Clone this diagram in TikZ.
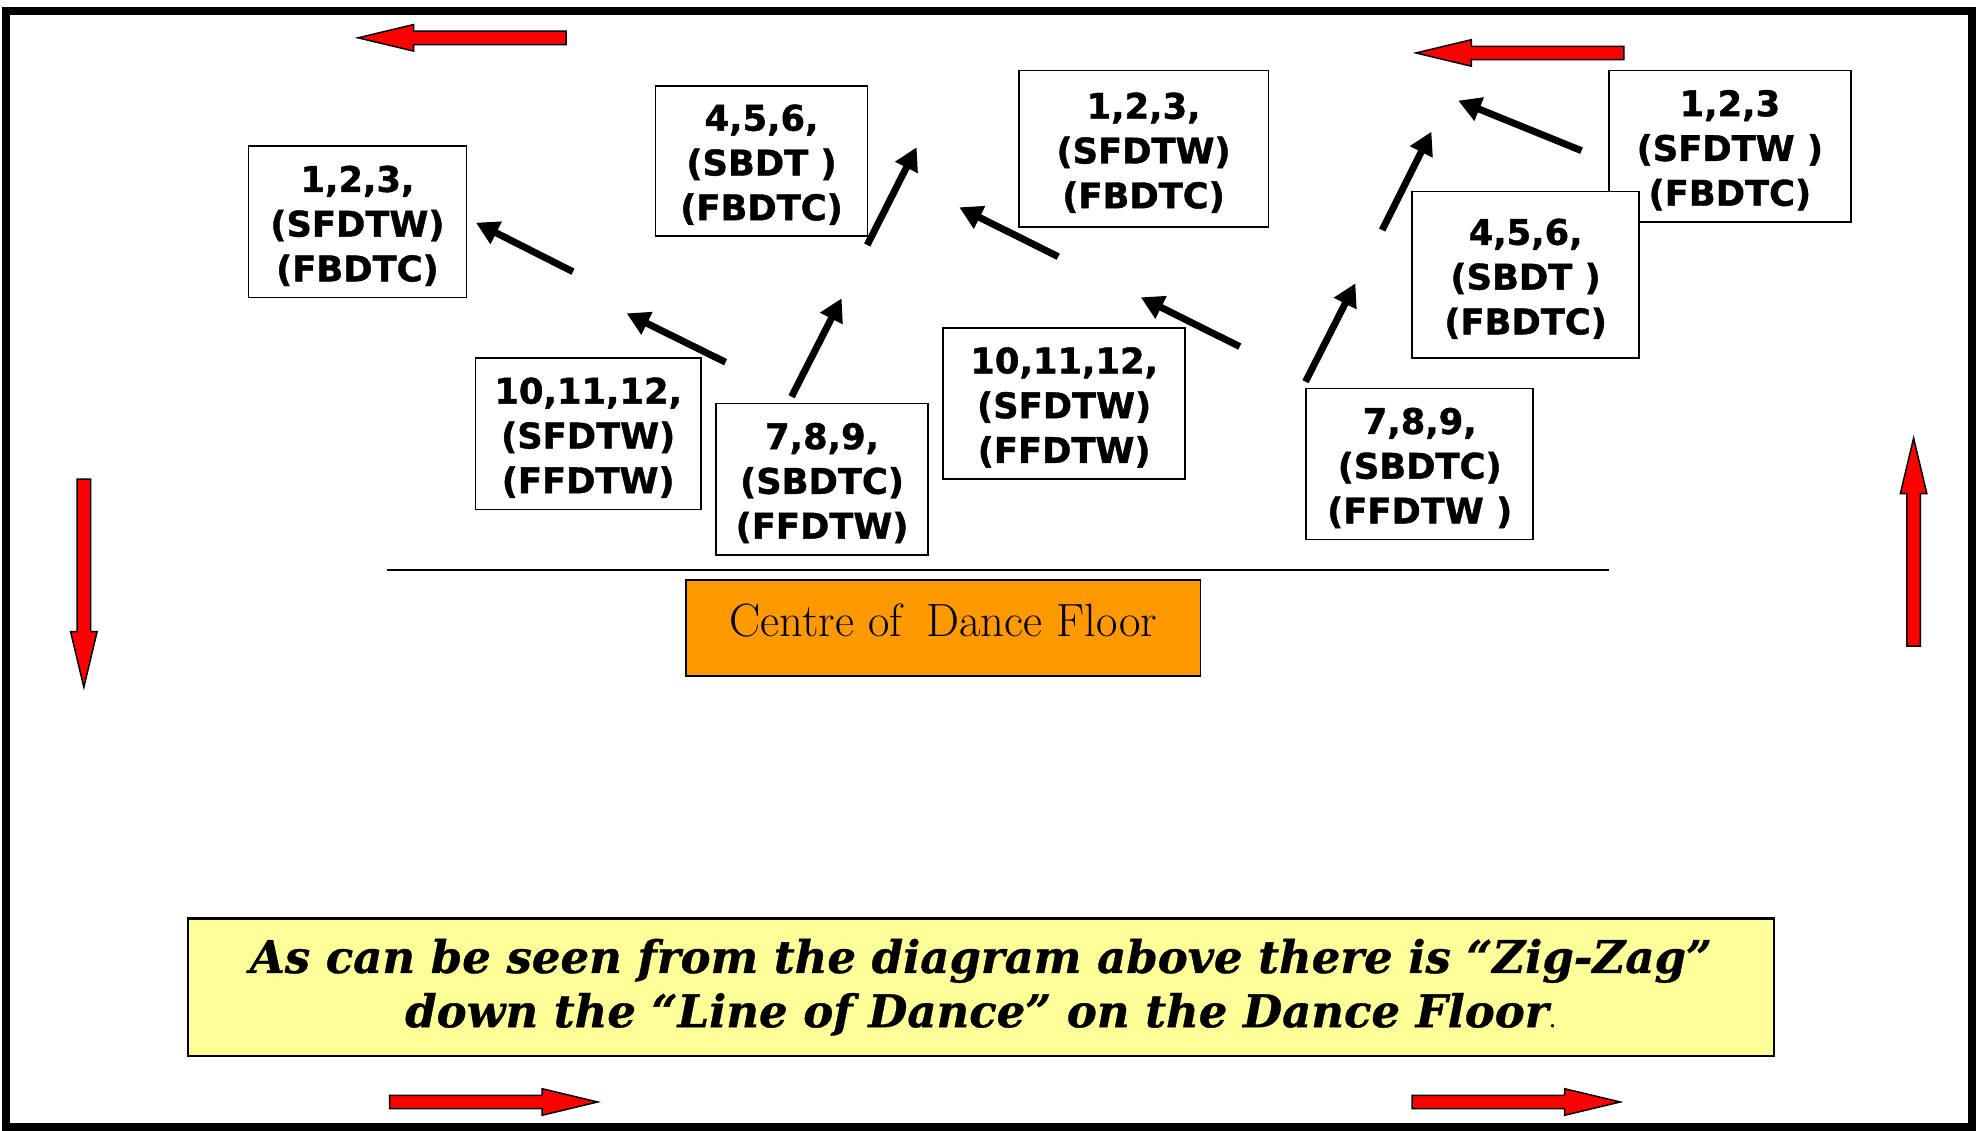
\documentclass[tikz,border=0pt]{standalone}
\usepackage{fontspec}
\usetikzlibrary{arrows.meta}
\newfontfamily\boxfont{DejaVu Sans}[BoldFeatures={FakeBold=1.2}]
\newfontfamily\notefont{DejaVu Serif}[BoldItalicFeatures={FakeBold=0.8}]
\definecolor{orangefill}{RGB}{255,153,0}
\definecolor{yellowfill}{RGB}{255,255,153}
\newcommand{\tp}{\rule{0pt}{27pt}}
\begin{document}
\begin{tikzpicture}[x=1pt,y=-1pt,
  stepbox/.style={draw, line width=1.3pt, fill=white, inner sep=0pt, align=center,
    font=\boxfont\bfseries\fontsize{28}{35.5}\selectfont},
  blk/.style={line width=5.5pt, -{Triangle[length=18pt,width=19pt]}},
  redarrow/.pic={\draw[line width=1.2pt, fill=red] (0,-5.3) -- (121,-5.3) -- (121,-10.5) -- (165,0) -- (121,10.5) -- (121,5.3) -- (0,5.3) -- cycle;}
]
\useasboundingbox (0,0) rectangle (1568,897);
\fill[white] (0,0) rectangle (1568,897);
% frame
\draw[line width=6.5pt] (5,9) rectangle (1564,894);
% red direction arrows
\pic[rotate=180] at (449,30) {redarrow};
\pic[rotate=180] at (1288,42) {redarrow};
\pic[rotate=-90] at (66.5,380) {redarrow};
\pic[rotate=90] at (1517.7,512.5) {redarrow};
\pic at (309,874) {redarrow};
\pic at (1120,874) {redarrow};
% boxes
\node[stepbox, minimum width=173pt, minimum height=120pt] (A) at (283.5,176) {\tp 1,2,3,\\(SFDTW)\\(FBDTC)};
\node[stepbox, minimum width=168pt, minimum height=119pt] (B) at (604,127.5) {\tp 4,5,6,\\(SBDT )\\(FBDTC)};
\node[stepbox, minimum width=198pt, minimum height=124pt] (C) at (907,118) {\tp 1,2,3,\\(SFDTW)\\(FBDTC)};
\node[stepbox, minimum width=192pt, minimum height=120pt] (D) at (1372,116) {\tp 1,2,3\\(SFDTW )\\(FBDTC)};
\node[stepbox, minimum width=180pt, minimum height=132pt] (E) at (1210,218) {\tp 4,5,6,\\(SBDT )\\(FBDTC)};
\node[stepbox, minimum width=179pt, minimum height=120pt] (F) at (466.5,344) {\tp 10,11,12,\\(SFDTW)\\(FFDTW)};
\node[stepbox, minimum width=168pt, minimum height=120pt] (G) at (652,380) {\tp 7,8,9,\\(SBDTC)\\(FFDTW)};
\node[stepbox, minimum width=192pt, minimum height=120pt] (H) at (844,320) {\tp 10,11,12,\\(SFDTW)\\(FFDTW)};
\node[stepbox, minimum width=180pt, minimum height=120pt] (I) at (1126,368) {\tp 7,8,9,\\(SBDTC)\\(FFDTW )};
% black zig-zag arrows
\coordinate (t1) at (454.4,215.5); \coordinate (h1) at (377.5,176.6);
\coordinate (t2) at (575.5,287.3); \coordinate (h2) at (497,248.5);
\coordinate (t3) at (627.8,314.6); \coordinate (h3) at (667.5,236.6);
\coordinate (t4) at (687.8,194.3); \coordinate (h4) at (727,116.8);
\coordinate (t5) at (839.3,203.6); \coordinate (h5) at (760.8,164.4);
\coordinate (t6) at (983.3,274.9); \coordinate (h6) at (904.8,235.8);
\coordinate (t7) at (1035.4,302.7); \coordinate (h7) at (1075,224.7);
\coordinate (t8) at (1096.2,182.4); \coordinate (h8) at (1135.3,104.4);
\coordinate (t9) at (1254.3,119.5); \coordinate (h9) at (1156.5,79.8);
\foreach \i in {1,...,9} {\draw[blk] (t\i) -- (h\i);}
% centre line
\coordinate (cl) at (307,452); \coordinate (cr) at (1276,452);
\draw[line width=1.5pt] (cl) -- (cr);
% centre box
\node[draw, line width=1.3pt, fill=orangefill, inner sep=0pt, minimum width=408pt, minimum height=76pt,
  text height=25pt, text depth=12pt,
  font=\fontsize{37}{42}\selectfont] (centre) at (748,498) {Centre of\hspace{8pt} Dance Floor};
% note box
\node[draw, line width=1.8pt, fill=yellowfill, inner sep=0pt, minimum width=1258pt, minimum height=109pt,
  align=center, font=\notefont\bfseries\itshape\fontsize{35.7}{43}\selectfont] (note) at (778,783)
  {As can be seen from the diagram above there is “Zig-Zag”\\down the “Line of Dance” on the Dance Floor{\mdseries\upshape\fontsize{20}{20}\selectfont .}};
\end{tikzpicture}
\end{document}
